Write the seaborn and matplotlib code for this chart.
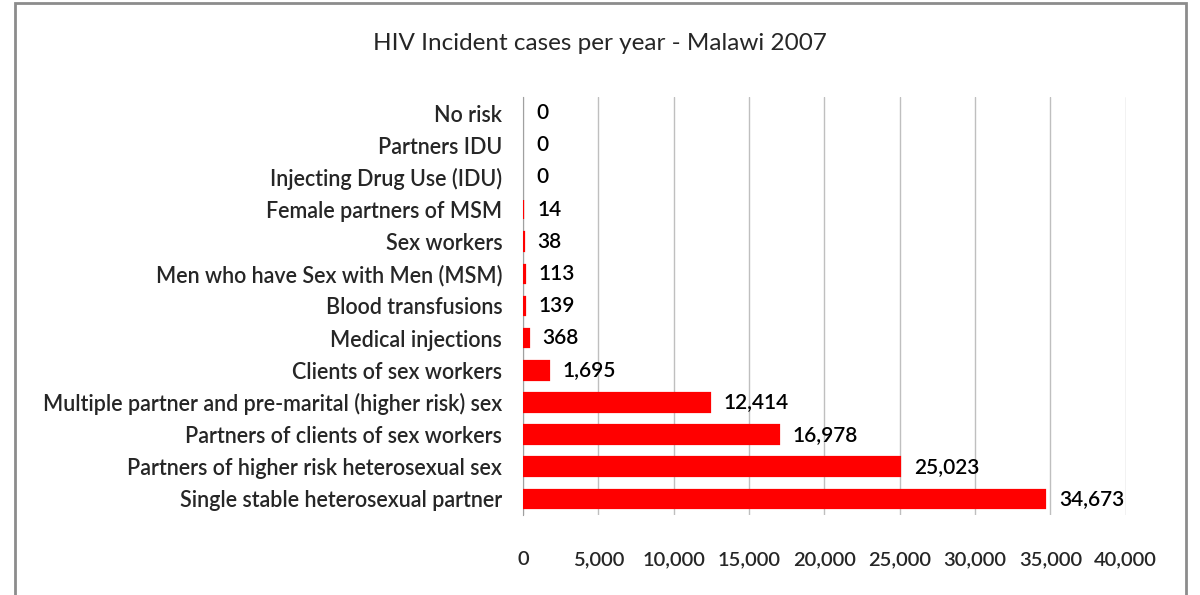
import matplotlib
matplotlib.use("Agg")
import matplotlib.pyplot as plt
import matplotlib.ticker as mticker
from matplotlib.patches import Rectangle
import pandas as pd
import seaborn as sns

# Données (de haut en bas)
categories = [
    "No risk",
    "Partners IDU",
    "Injecting Drug Use (IDU)",
    "Female partners of MSM",
    "Sex workers",
    "Men who have Sex with Men (MSM)",
    "Blood transfusions",
    "Medical injections",
    "Clients of sex workers",
    "Multiple partner and pre-marital (higher risk) sex",
    "Partners of clients of sex workers",
    "Partners of higher risk heterosexual sex",
    "Single stable heterosexual partner",
]
cases = [0, 0, 0, 14, 38, 113, 139, 368, 1695, 12414, 16978, 25023, 34673]
x_ticks = [0, 5000, 10000, 15000, 20000, 25000, 30000, 35000, 40000]

df = pd.DataFrame({"category": categories, "cases": cases})

sns.set_style("white")
plt.rcParams["font.family"] = ["Lato", "DejaVu Sans"]
plt.rcParams["font.weight"] = "semibold"

fig = plt.figure(figsize=(12, 5.95), dpi=100)
ax = fig.add_axes([0.4358, 0.1345, 0.5023, 0.7025])

sns.barplot(data=df, x="cases", y="category", orient="h", color="#FF0000",
            saturation=1, width=0.575, edgecolor="#FF0000", linewidth=1.6, ax=ax)

# pas de contour pour les barres à zéro, les autres passent devant l'axe
for p in ax.patches:
    if p.get_width() == 0:
        p.set_linewidth(0)
    p.set_zorder(3)

labels = [f"{v:,}" for v in cases]
ax.bar_label(ax.containers[0], labels=labels, padding=10, fontsize=15, color="black")

ax.set_xlim(0, 40000)
ax.set_xticks(x_ticks)
ax.xaxis.set_major_formatter(mticker.FuncFormatter(lambda v, _: f"{int(v):,}"))
ax.tick_params(axis="x", length=0, pad=26, labelsize=14.5)
ax.tick_params(axis="y", length=0, pad=15, labelsize=15.5)
ax.grid(axis="x", color="#BFBFBF", linewidth=1.0)
ax.set_axisbelow(True)
for s in ["top", "right", "bottom"]:
    ax.spines[s].set_visible(False)
ax.spines["left"].set_color("#A0A0A0")
ax.set_xlabel("")
ax.set_ylabel("")

fig.text(0.5, 0.916, "HIV Incident cases per year - Malawi 2007", ha="center", va="baseline",
         fontsize=17.5, fontweight="normal")

# cadre gris autour du graphique
fig.patches.append(Rectangle((0.0125, -0.02), 0.976, 1.015, transform=fig.transFigure,
                             fill=False, edgecolor="#8C8C8C", linewidth=2))

fig.savefig("out.png", dpi=100)
